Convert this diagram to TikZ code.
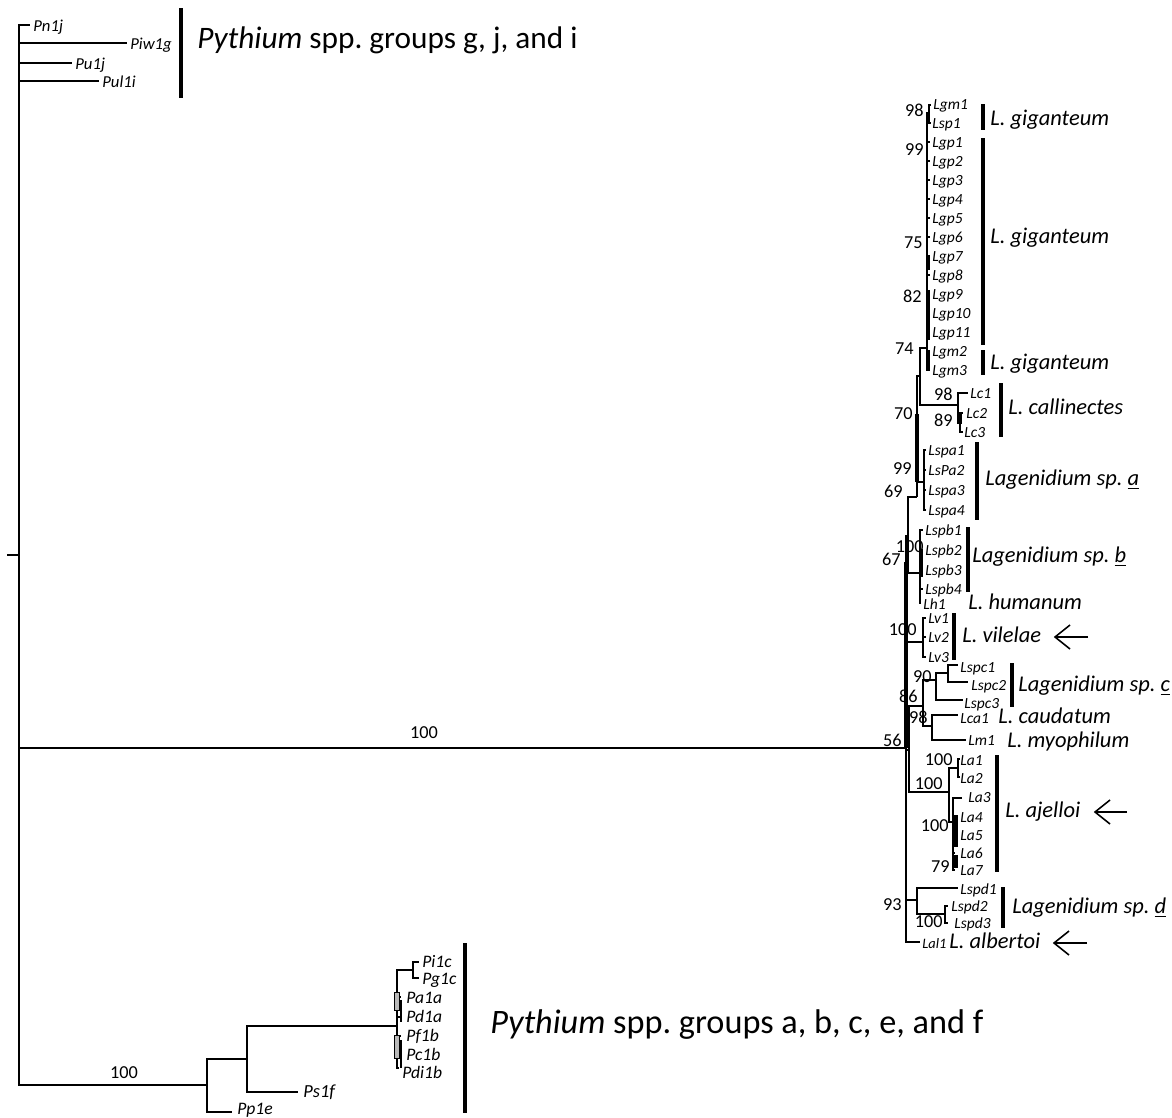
\documentclass[tikz,border=0pt]{standalone}
\usepackage{fontspec}
\setmainfont{Carlito}
\newcommand\kids[2]{\foreach \k in {#2}{\draw[br] (#1) |- (\k);}}
\begin{document}
\frenchspacing
\begin{tikzpicture}[x=0.02cm,y=-0.02cm,
  br/.style={line width=0.9pt},
  thk/.style={line width=2.2pt},
  bar/.style={line width=1.8pt},
  arr/.style={line width=0.9pt},
  tip/.style={font=\fontsize{8.8}{10}\selectfont\itshape, anchor=west, inner sep=0pt, text height=0.65em, text depth=0pt},
  tipP/.style={font=\fontsize{9.5}{11}\selectfont\itshape, anchor=west, inner sep=0pt, text height=0.65em, text depth=0pt},
  tipB/.style={font=\fontsize{10}{12}\selectfont\itshape, anchor=west, inner sep=0pt, text height=0.65em, text depth=0pt},
  bs/.style={font=\fontsize{10.4}{12}\selectfont, anchor=east, inner sep=0pt, text height=0.63em, text depth=0pt},
  bsc/.style={font=\fontsize{10.4}{12}\selectfont, inner sep=0pt, text height=0.63em, text depth=0pt},
  clade/.style={font=\fontsize{12.8}{15}\selectfont\itshape, anchor=west, inner sep=0pt, text height=0.65em, text depth=0pt},
  big/.style={font=\fontsize{17.8}{20}\selectfont, anchor=west, inner sep=0pt, text height=0.65em, text depth=0pt}]
\fill[white] (0,0) rectangle (1172,1117);
\useasboundingbox (0,0) rectangle (1172,1117);

% ---------------- root ----------------
\coordinate (R) at (19,555);
\coordinate (Rs) at (7,555);
\coordinate (Pn1j) at (30,25);
\coordinate (Piw1g) at (127,43);
\coordinate (Pu1j) at (72,63);
\coordinate (Pul1i) at (99,81);
\coordinate (N56) at (906,748);
\coordinate (B207) at (207,1085);
\draw[br] (Rs) -- (R);
\kids{R}{Pn1j,Piw1g,Pu1j,Pul1i,N56,B207}
\node[tipP] (lPn1j) at (33,26) {Pn1j};
\node[tipP] (lPiw1g) at (130,44) {Piw1g};
\node[tipP] (lPu1j) at (75,64) {Pu1j};
\node[tipP] (lPul1i) at (102,82) {Pul1i};
\draw[bar] (181,8) -- (181,98);
\node[big] (gjI) at (197,43) {\textit{Pythium} spp. groups g, j, and i};
\node[bsc] (bsMain) at (424,733) {100};
\node[bsc] (bsBot) at (124,1073) {100};

% ---------------- bottom Pythium ----------------
\coordinate (B247) at (247,1059);
\coordinate (Pp1e) at (232,1112);
\coordinate (B398) at (397,1026);
\coordinate (Ps1f) at (298,1092);
\coordinate (B413) at (413,970);
\coordinate (Pa1a) at (401,997);
\coordinate (Pd1a) at (401,1017);
\coordinate (Pf1b) at (401,1036);
\coordinate (Pc1b) at (401,1055);
\coordinate (Pdi1b) at (399,1068);
\coordinate (Pi1c) at (419,962);
\coordinate (Pg1c) at (419,978);
\kids{B207}{B247,Pp1e}
\kids{B247}{B398,Ps1f}
\kids{B398}{B413,Pa1a,Pd1a,Pf1b,Pc1b,Pdi1b}
\kids{B413}{Pi1c,Pg1c}
\filldraw[fill=gray!55, line width=0.4pt] (394.5,992) rectangle (399,1010);
\filldraw[fill=gray!55, line width=0.4pt] (394.5,1035) rectangle (399,1058);
\draw[br] (401,1000) -- (401,1022);
\draw[br] (401,1040) -- (401,1068);
\node[tipB] (lPp1e) at (237,1109) {Pp1e};
\node[tipB, font=\fontsize{10.5}{12}\selectfont\itshape] (lPs1f) at (303,1092) {Ps1f};
\node[tipB] (lPi1c) at (422,962) {Pi1c};
\node[tipB] (lPg1c) at (422,979) {Pg1c};
\node[tipB] (lPa1a) at (406,998) {Pa1a};
\node[tipB] (lPd1a) at (406,1017) {Pd1a};
\node[tipB] (lPf1b) at (406,1036) {Pf1b};
\node[tipB] (lPc1b) at (406,1055) {Pc1b};
\node[tipB] (lPdi1b) at (402,1073) {Pdi1b};
\draw[bar] (465,943) -- (465,1113);
\node[big, font=\fontsize{19.5}{22}\selectfont] (abcef) at (490,1028) {\textit{Pythium} spp. groups a, b, c, e, and f};

% ---------------- Lagenidium clade ----------------
\coordinate (N67) at (906,589);
\coordinate (NX) at (909,750);
\coordinate (N93) at (917,900);
\coordinate (Lal1) at (920,942);
\kids{N56}{N67,NX,N93,Lal1}
\coordinate (N69) at (908,536);
\coordinate (NLv) at (923,642);
\kids{N67}{N69,NLv}
\coordinate (N70) at (917,497);
\coordinate (Nb) at (920,573);
\kids{N69}{N70,Nb}
\coordinate (N74) at (920,376);
\coordinate (NLspa) at (924,482);
\kids{N70}{N74,NLspa}
\coordinate (NG) at (927,348);
\coordinate (NLc) at (958,405);
\kids{N74}{NG,NLc}
\coordinate (N98g) at (929,113);
\coordinate (Lgm1) at (931,105);
\coordinate (Lsp1) at (931,123);
\kids{N98g}{Lgm1,Lsp1}
\draw[br] (NG) |- (N98g);
\foreach \i [evaluate=\i as \yy using 142+(\i-1)*19.0] in {1,...,11} {
  \coordinate (Lgp\i) at (930,\yy);
  \draw[br] (NG) |- (Lgp\i);
  \node[tip] (lLgp\i) at (932,\yy) {Lgp\i};
}
\coordinate (Lgm2) at (930,351);
\coordinate (Lgm3) at (930,370);
\kids{NG}{Lgm2,Lgm3}
\node[tip] (lLgm1) at (933,104) {Lgm1};
\node[tip] (lLsp1) at (932,123) {Lsp1};
\node[tip] (lLgm2) at (932,351) {Lgm2};
\node[tip] (lLgm3) at (932,370) {Lgm3};
% Lc
\coordinate (Lc1) at (968,393);
\coordinate (N89) at (960,423);
\coordinate (Lc2) at (963,413);
\coordinate (Lc3) at (963,432);
\kids{NLc}{Lc1,N89}
\kids{N89}{Lc2,Lc3}
\node[tip] (lLc1) at (970,393) {Lc1};
\node[tip] (lLc2) at (966,413) {Lc2};
\node[tip] (lLc3) at (964,432) {Lc3};
% Lspa
\coordinate (Lspa1) at (926,450);
\coordinate (LsPa2) at (926,470);
\coordinate (Lspa3) at (926,490);
\coordinate (Lspa4) at (926,510);
\kids{NLspa}{Lspa1,LsPa2,Lspa3,Lspa4}
\node[tip] (lLspa1) at (928,450) {Lspa1};
\node[tip] (lLsPa2) at (928,470) {LsPa2};
\node[tip] (lLspa3) at (928,490) {Lspa3};
\node[tip] (lLspa4) at (928,510) {Lspa4};
% Lspb + Lh1
\coordinate (Lspb1) at (923,530);
\coordinate (Lspb2) at (923,550);
\coordinate (Lspb3) at (923,570);
\coordinate (Lspb4) at (923,589);
\coordinate (Lh1) at (921,603);
\kids{Nb}{Lspb1,Lspb2,Lspb3,Lspb4,Lh1}
\node[tip] (lLspb1) at (925,530) {Lspb1};
\node[tip] (lLspb2) at (925,550) {Lspb2};
\node[tip] (lLspb3) at (925,570) {Lspb3};
\node[tip] (lLspb4) at (925,589) {Lspb4};
\node[tip] (lLh1) at (923,604) {Lh1};
% Lv
\coordinate (Lv1) at (926,618);
\coordinate (Lv2) at (926,637);
\coordinate (Lv3) at (926,657);
\kids{NLv}{Lv1,Lv2,Lv3}
\node[tip] (lLv1) at (928,618) {Lv1};
\node[tip] (lLv2) at (928,637) {Lv2};
\node[tip] (lLv3) at (928,657) {Lv3};
% NX
\coordinate (N86) at (923,706);
\coordinate (NLa) at (949,792);
\kids{NX}{N86,NLa}
\coordinate (N90) at (936,680);
\coordinate (N98c) at (932,726);
\kids{N86}{N90,N98c}
\coordinate (N90a) at (948,673);
\coordinate (Lspc3) at (963,700);
\kids{N90}{N90a,Lspc3}
\coordinate (Lspc1) at (958,665);
\coordinate (Lspc2) at (968,682);
\kids{N90a}{Lspc1,Lspc2}
\coordinate (Lca1) at (958,715);
\coordinate (Lm1) at (966,740);
\kids{N98c}{Lca1,Lm1}
\node[tip] (lLspc1) at (960,667) {Lspc1};
\node[tip] (lLspc2) at (971,685) {Lspc2};
\node[tip] (lLspc3) at (964,703) {Lspc3};
\node[tip] (lLca1) at (960,718) {Lca1};
\node[tip] (lLm1) at (968,740) {Lm1};
% La
\coordinate (N100a) at (958,768);
\coordinate (N100b) at (953,822);
\kids{NLa}{N100a,N100b}
\coordinate (La1) at (960,759);
\coordinate (La2) at (960,777);
\kids{N100a}{La1,La2}
\coordinate (La3) at (962,798);
\coordinate (La4) at (955,817);
\coordinate (La5) at (955,835);
\coordinate (La6) at (955,853);
\coordinate (La7) at (955,870);
\kids{N100b}{La3,La4,La5,La6,La7}
\node[tip] (lLa1) at (960,760) {La1};
\node[tip] (lLa2) at (960,778) {La2};
\node[tip] (lLa3) at (968,797) {La3};
\node[tip] (lLa4) at (960,817) {La4};
\node[tip] (lLa5) at (960,835) {La5};
\node[tip] (lLa6) at (960,853) {La6};
\node[tip] (lLa7) at (960,870) {La7};
% Lspd
\coordinate (Lspd1) at (958,888);
\coordinate (N100d) at (945,914);
\kids{N93}{Lspd1,N100d}
\coordinate (Lspd2) at (948,906);
\coordinate (Lspd3) at (948,923);
\kids{N100d}{Lspd2,Lspd3}
\node[tip] (lLspd1) at (960,889) {Lspd1};
\node[tip] (lLspd2) at (951,906) {Lspd2};
\node[tip] (lLspd3) at (954,923) {Lspd3};
\node[tip, font=\fontsize{8.2}{9}\selectfont\itshape] (lLal1) at (922,943) {Lal1};

% thick overlays
\draw[thk] (928,255) -- (928,270);
\draw[thk] (928,290) -- (928,340);
\draw[thk] (928,352) -- (928,370);
\draw[thk] (906,562) -- (906,748);
\draw[thk] (917,414) -- (917,482);
\draw[thk] (921,550) -- (921,577);
\draw[thk] (960,412) -- (960,424);
\draw[thk] (956,815) -- (956,847);
\draw[thk] (956,855) -- (956,868);

% bootstrap values
\node[bs] (b98g) at (924,111) {98};
\node[bs] (b99g) at (924,150) {99};
\node[bs] (b75) at (923,243) {75};
\node[bs] (b82) at (922,297) {82};
\node[bs] (b74) at (914,349) {74};
\node[bs] (b70) at (913,414) {70};
\node[bs] (b98c) at (953,395) {98};
\node[bs] (b89) at (953,421) {89};
\node[bs] (b99a) at (912,469) {99};
\node[bs] (b69) at (903,492) {69};
\node[bs] (b100b) at (924,547) {100};
\node[bs] (b67) at (901,560) {67};
\node[bs] (b100v) at (917,630) {100};
\node[bs] (b90) at (932,677) {90};
\node[bs] (b86) at (918,697) {86};
\node[bs] (b98l) at (928,718) {98};
\node[bs] (b56) at (902,741) {56};
\node[bs] (b100a) at (953,760) {100};
\node[bs] (b100la) at (943,784) {100};
\node[bs] (b100c) at (949,826) {100};
\node[bs] (b79) at (950,867) {79};
\node[bs] (b93) at (902,905) {93};
\node[bs] (b100d) at (943,922) {100};

% clade bars and names
\draw[bar] (983,104) -- (983,130);
\draw[bar] (983,138) -- (983,345);
\draw[bar] (983,350) -- (983,375);
\draw[bar] (1001,383) -- (1001,437);
\draw[bar] (977,442) -- (977,520);
\draw[bar] (968,527) -- (968,592);
\draw[bar] (954,613) -- (954,660);
\draw[bar] (1012,663) -- (1012,707);
\draw[bar] (997,755) -- (997,872);
\draw[bar] (1003,887) -- (1003,928);
\node[clade] (cG1) at (990,120) {L. giganteum};
\node[clade] (cG2) at (990,238) {L. giganteum};
\node[clade] (cG3) at (990,364) {L. giganteum};
\node[clade] (cLc) at (1008,409) {L. callinectes};
\node[clade] (cA) at (985,480) {Lagenidium sp. \underline{a}};
\node[clade] (cB) at (972,557) {Lagenidium sp. \underline{b}};
\node[clade] (cH) at (968,604) {L. humanum};
\node[clade] (cV) at (962,637) {L. vilelae};
\node[clade] (cC) at (1018,686) {Lagenidium sp. \underline{c}};
\node[clade] (cCa) at (998,718) {L. caudatum};
\node[clade] (cM) at (1007,742) {L. myophilum};
\node[clade] (cAj) at (1005,812) {L. ajelloi};
\node[clade] (cD) at (1012,908) {Lagenidium sp. \underline{d}};
\node[clade] (cAl) at (949,943) {L. albertoi};

% arrows
\draw[arr] (1087,943) -- (1054,943);
\draw[arr] (1069,931) -- (1054,943) -- (1069,955);
\draw[arr] (1088,637) -- (1055,637);
\draw[arr] (1070,625) -- (1055,637) -- (1070,649);
\draw[arr] (1127,812) -- (1095,812);
\draw[arr] (1110,800) -- (1095,812) -- (1110,824);
\end{tikzpicture}
\end{document}
